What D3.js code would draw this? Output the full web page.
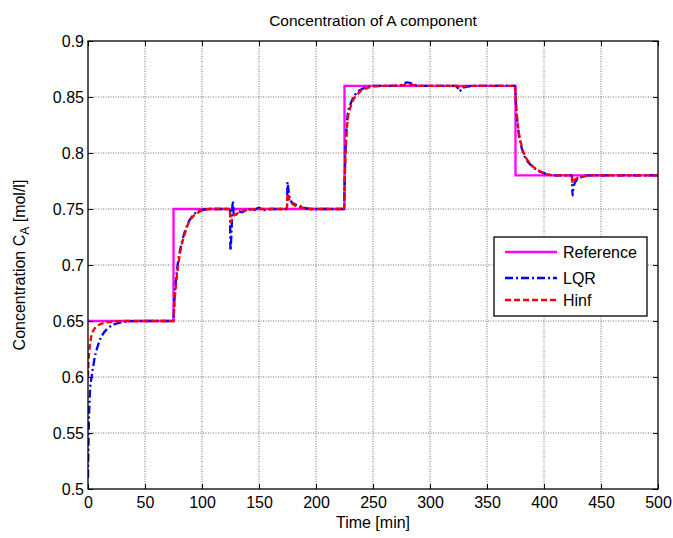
<!DOCTYPE html>
<html>
<head>
<meta charset="utf-8">
<script src="https://cdn.jsdelivr.net/npm/d3@7"></script>
<style>
  body { margin: 0; background: #fff; }
  svg { display: block; font-family: "Liberation Sans", Arial, sans-serif; }
</style>
</head>
<body>
<div id="chart"></div>
<script>
// Tick values
const xTicks = [0, 50, 100, 150, 200, 250, 300, 350, 400, 450, 500];
const yTicks = [0.5, 0.55, 0.6, 0.65, 0.7, 0.75, 0.8, 0.85, 0.9];

// Reference set-point (time, value)
const refData = [
  [0, 0.65], [75, 0.65], [75, 0.75], [225, 0.75],
  [225, 0.86], [375, 0.86], [375, 0.78], [500, 0.78]
];

// LQR response (time, value)
const lqrData = [
  [0, 0.51], [0.5, 0.545], [1, 0.568], [1.5, 0.582], [2, 0.591], [3, 0.599],
  [4, 0.606], [5, 0.612], [6, 0.618], [7.5, 0.624], [10, 0.632], [13.5, 0.639],
  [17, 0.643], [22, 0.6465], [28, 0.6485], [37, 0.6498], [50, 0.65], [75, 0.65],
  [75.5, 0.662], [76, 0.672], [77, 0.685], [78, 0.695], [80, 0.709], [82, 0.719],
  [85, 0.73], [88, 0.738], [91, 0.743], [95, 0.747], [100, 0.749], [107, 0.75],
  [124.5, 0.75], [125, 0.713], [126, 0.733], [127, 0.757], [128, 0.744],
  [130, 0.745], [132, 0.748], [135, 0.747], [140, 0.75], [145, 0.749],
  [150, 0.751], [155, 0.749], [160, 0.75], [168, 0.75], [174.5, 0.75],
  [175, 0.774], [175.5, 0.77], [176.5, 0.762], [178, 0.757], [180, 0.755],
  [185, 0.753], [190, 0.751], [195, 0.75], [224.5, 0.75],
  [225, 0.768], [225.5, 0.79], [226, 0.805], [227, 0.825], [228, 0.836],
  [230, 0.843], [232, 0.848], [236, 0.854], [240, 0.857], [245, 0.859],
  [252, 0.86], [270, 0.86], [276, 0.861], [280, 0.863], [284, 0.862],
  [290, 0.86], [322, 0.86], [325, 0.857], [326, 0.855], [328, 0.858],
  [332, 0.859], [340, 0.86], [374.5, 0.86],
  [375, 0.852], [375.5, 0.843], [376, 0.835], [377, 0.824], [378, 0.816],
  [380, 0.806], [383, 0.797], [386, 0.792], [390, 0.788], [395, 0.784],
  [400, 0.782], [405, 0.7805], [410, 0.78], [424.5, 0.78],
  [425, 0.762], [426, 0.77], [428, 0.775], [432, 0.778], [440, 0.78], [500, 0.78]
];

// Hinf response (time, value)
const hinfData = [
  [0, 0.6], [0.5, 0.614], [1, 0.622], [2, 0.631], [3, 0.637], [5, 0.642],
  [8, 0.6455], [12, 0.6475], [18, 0.649], [25, 0.6498], [35, 0.65], [75, 0.65],
  [75.5, 0.658], [76, 0.668], [77, 0.68], [78, 0.69], [80, 0.706], [82, 0.717],
  [85, 0.728], [88, 0.737], [91, 0.742], [95, 0.746], [100, 0.7485], [107, 0.75],
  [124.5, 0.75], [125, 0.738], [126, 0.74], [128, 0.744], [131, 0.746],
  [135, 0.748], [140, 0.749], [150, 0.75], [174.5, 0.75],
  [175, 0.764], [176, 0.76], [178, 0.756], [180, 0.754], [185, 0.752],
  [190, 0.751], [197, 0.75], [224.5, 0.75],
  [225, 0.765], [225.5, 0.785], [226, 0.8], [227, 0.82], [228, 0.831],
  [230, 0.84], [232, 0.846], [236, 0.852], [240, 0.856], [245, 0.858],
  [252, 0.8595], [260, 0.86], [278, 0.8605], [282, 0.861], [290, 0.86],
  [324, 0.86], [326, 0.858], [330, 0.8595], [338, 0.86], [374.5, 0.86],
  [375, 0.853], [375.5, 0.845], [376, 0.837], [377, 0.826], [378, 0.818],
  [380, 0.808], [383, 0.798], [386, 0.793], [390, 0.788], [395, 0.7845],
  [400, 0.782], [405, 0.7805], [410, 0.78], [424.5, 0.78],
  [425, 0.773], [427, 0.776], [430, 0.778], [435, 0.779], [440, 0.78], [500, 0.78]
];

const width = 673;
const height = 538;
const margin = { top: 41, right: 15, bottom: 49, left: 88 };

const svg = d3.select("#chart").append("svg")
  .attr("width", width)
  .attr("height", height);

svg.append("rect").attr("width", width).attr("height", height).attr("fill", "#fff");

const x = d3.scaleLinear()
  .domain([0, 500])
  .range([margin.left, width - margin.right]);

const y = d3.scaleLinear()
  .domain([0.5, 0.9])
  .range([height - margin.bottom, margin.top]);

// grid lines (dotted)
const grid = svg.append("g").attr("class", "grid")
  .attr("stroke", "#6e6e6e")
  .attr("stroke-width", 1)
  .attr("stroke-dasharray", "1,1.5");

grid.selectAll(".gx")
  .data(xTicks.slice(1, -1))
  .join("line")
  .attr("x1", d => x(d)).attr("x2", d => x(d))
  .attr("y1", y(0.9)).attr("y2", y(0.5));

grid.selectAll(".gy")
  .data(yTicks.slice(1, -1))
  .join("line")
  .attr("x1", x(0)).attr("x2", x(500))
  .attr("y1", d => y(d)).attr("y2", d => y(d));

svg.append("defs").append("clipPath").attr("id", "clip")
  .append("rect")
  .attr("x", x(0)).attr("y", y(0.9))
  .attr("width", x(500) - x(0)).attr("height", y(0.5) - y(0.9));

const line = d3.line()
  .x(d => x(d[0]))
  .y(d => y(d[1]));

const smooth = d3.line()
  .x(d => x(d[0]))
  .y(d => y(d[1]))
  .curve(d3.curveMonotoneX);

const plot = svg.append("g").attr("clip-path", "url(#clip)");

plot.append("path")
  .datum(refData)
  .attr("fill", "none")
  .attr("stroke", "#ff00ff")
  .attr("stroke-width", 2.3)
  .attr("d", line);

plot.append("path")
  .datum(lqrData)
  .attr("fill", "none")
  .attr("stroke", "#0000ff")
  .attr("stroke-width", 2.3)
  .attr("stroke-dasharray", "8,3,2,3")
  .attr("d", smooth);

plot.append("path")
  .datum(hinfData)
  .attr("fill", "none")
  .attr("stroke", "#ff0000")
  .attr("stroke-width", 2.3)
  .attr("stroke-dasharray", "6,3")
  .attr("d", smooth);

// axes with inward ticks on all four sides
const fmtY = d => String(+d.toFixed(2));

const axisStyle = g => {
  g.select(".domain").remove();
  g.selectAll(".tick line").attr("stroke", "#000");
  g.selectAll("text").attr("fill", "#000").style("font-size", "16px");
};

svg.append("g")
  .attr("transform", `translate(0,${y(0.5)})`)
  .call(d3.axisBottom(x).tickValues(xTicks).tickSize(-5).tickPadding(8))
  .call(axisStyle);

svg.append("g")
  .attr("transform", `translate(0,${y(0.9)})`)
  .call(d3.axisTop(x).tickValues(xTicks).tickSize(-5).tickFormat(""))
  .call(axisStyle);

svg.append("g")
  .attr("transform", `translate(${x(0)},0)`)
  .call(d3.axisLeft(y).tickValues(yTicks).tickSize(-5).tickPadding(4).tickFormat(fmtY))
  .call(axisStyle);

svg.append("g")
  .attr("transform", `translate(${x(500)},0)`)
  .call(d3.axisRight(y).tickValues(yTicks).tickSize(-5).tickFormat(""))
  .call(axisStyle);

// box
svg.append("rect")
  .attr("x", x(0)).attr("y", y(0.9))
  .attr("width", x(500) - x(0)).attr("height", y(0.5) - y(0.9))
  .attr("fill", "none")
  .attr("stroke", "#000")
  .attr("stroke-width", 1.3);

// title and labels
svg.append("text")
  .attr("x", (x(0) + x(500)) / 2)
  .attr("y", 26)
  .attr("text-anchor", "middle")
  .style("font-size", "15.5px")
  .text("Concentration of A component");

svg.append("text")
  .attr("x", (x(0) + x(500)) / 2)
  .attr("y", 528)
  .attr("text-anchor", "middle")
  .style("font-size", "16px")
  .text("Time [min]");

const yl = svg.append("text")
  .attr("transform", `translate(25,${(y(0.5) + y(0.9)) / 2}) rotate(-90)`)
  .attr("text-anchor", "middle")
  .style("font-size", "16px");
yl.append("tspan").text("Concentration C");
yl.append("tspan").attr("dy", 4).style("font-size", "12px").text("A");
yl.append("tspan").attr("dy", -4).text(" [mol/l]");

// legend
const legendItems = [
  { name: "Reference", color: "#ff00ff", dash: null },
  { name: "LQR", color: "#0000ff", dash: "8,3,2,3" },
  { name: "Hinf", color: "#ff0000", dash: "6,3" }
];

const lg = svg.append("g").attr("transform", "translate(494,237)");
lg.append("rect")
  .attr("width", 153).attr("height", 79)
  .attr("fill", "#fff")
  .attr("stroke", "#000")
  .attr("stroke-width", 1.3);

const entry = lg.selectAll(".entry")
  .data(legendItems)
  .join("g")
  .attr("transform", (d, i) => `translate(0,${[15, 41, 63][i]})`);

entry.append("line")
  .attr("x1", 11).attr("x2", 63)
  .attr("stroke", d => d.color)
  .attr("stroke-width", 2.3)
  .attr("stroke-dasharray", d => d.dash);

entry.append("text")
  .attr("x", 69)
  .attr("y", 6)
  .style("font-size", "16px")
  .text(d => d.name);
</script>
</body>
</html>
